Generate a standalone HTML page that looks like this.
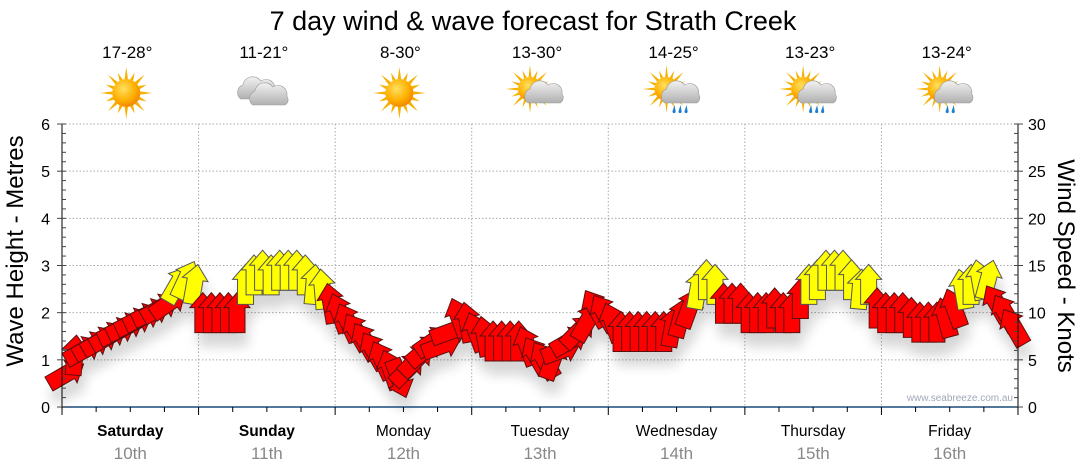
<!DOCTYPE html>
<html><head><meta charset="utf-8"><style>
html,body{margin:0;padding:0;background:#fff;}
svg{display:block;font-family:"Liberation Sans",sans-serif;}
</style></head><body>
<svg id="chart" width="1080" height="475" viewBox="0 0 1080 475" xmlns="http://www.w3.org/2000/svg">
<defs>
<radialGradient id="sunG" cx="0.4" cy="0.35" r="0.7"><stop offset="0" stop-color="#ffe060"/><stop offset="0.6" stop-color="#ffb000"/><stop offset="1" stop-color="#f08000"/></radialGradient>
<linearGradient id="cloudG" x1="0" y1="0" x2="0" y2="1"><stop offset="0" stop-color="#f2f2f2"/><stop offset="1" stop-color="#b0b0b0"/></linearGradient>
<filter id="shadow" x="-50%" y="-50%" width="200%" height="200%"><feGaussianBlur stdDeviation="6"/></filter>
</defs>
<text x="533" y="30" font-size="27" text-anchor="middle" fill="#000">7 day wind &amp; wave forecast for Strath Creek</text>
<g id="grid"></g>
<g id="icons"></g>
<g id="shadows" opacity="0.16" filter="url(#shadow)"></g>
<g id="arrows"></g>
<g id="axes"></g>
<text x="1013" y="401" font-size="10" text-anchor="end" fill="#a0a8b8">www.seabreeze.com.au</text>
<text transform="translate(23,251) rotate(-90)" font-size="24" text-anchor="middle">Wave Height - Metres</text>
<text transform="translate(1058,266) rotate(90)" font-size="24" text-anchor="middle">Wind Speed - Knots</text>
</svg>
<script>
const days = ["Saturday","Sunday","Monday","Tuesday","Wednesday","Thursday","Friday"];
const dates = ["10th","11th","12th","13th","14th","15th","16th"];
const temps = ["17-28°","11-21°","8-30°","13-30°","14-25°","13-23°","13-24°"];
const weather = ["sun","cloud","sun","suncloud","rain","rain","rainlight"];
const waveTicks = [0,1,2,3,4,5,6];
const windTicks = [0,5,10,15,20,25,30];
const windSpeed = [
 3.5,5.5,6,6.5,7,7.5,8,8.5,9,9.5,10,10.5,11,13,13.5,13,
 10,10,10,10,10,13,14,14.5,14,14.5,14.5,14.5,14,13,12.5,11,
 10,9,8,7,6,5,4,3,4,5,6,7,6.5,8,9.5,9,
 8,7.5,7,7,7,7,6.5,5.5,5,5,6,7,8,9,10.5,10,
 9,8,8,8,8,8,8,8.5,9.5,10.5,12.5,13.5,13,11,11,11,
 10,10,10,10.5,10,10,11.5,13,13.5,14.5,14.5,14.5,13.5,12.5,13,10.5,
 10,10,10,9.5,9,9,9,9.5,10.5,12.5,13,13.5,13.5,11,10,8.5
];
const windDir = [
 60,5,60,60,60,60,65,65,65,65,65,60,55,30,25,10,
 0,0,0,0,0,0,0,0,0,0,0,0,0,5,-5,-10,
 -20,-25,-30,-30,-30,-25,-20,160,45,45,50,55,70,70,-20,-10,
 -20,-10,0,0,0,0,-20,-30,-30,20,70,60,45,30,-30,-30,
 -20,0,0,0,0,0,0,10,15,20,10,0,0,0,0,0,
 0,0,0,0,0,0,0,0,0,0,0,0,0,5,0,0,
 0,0,0,0,0,0,0,-15,-20,-10,0,-10,15,-30,-30,-30
];
const X0=62,X1=1018,Y0=407,Y1=124;
const NS="http://www.w3.org/2000/svg";
function xScale(i,n){return X0+(i+0.5)*(X1-X0)/n;}
function dayX(d){return X0+d*(X1-X0)/7;}
function yWave(v){return Y0-(v/6)*(Y0-Y1);}
function yWind(v){return Y0-(v/30)*(Y0-Y1);}
function mk(tag,attrs,parent){const e=document.createElementNS(NS,tag);for(const k in attrs)e.setAttribute(k,attrs[k]);parent.appendChild(e);return e;}
const grid=document.getElementById('grid'),axes=document.getElementById('axes'),icons=document.getElementById('icons'),arrowsG=document.getElementById('arrows'),shadows=document.getElementById('shadows');
waveTicks.forEach(v=>{if(v===0)return;const l=mk('line',{x1:X0,x2:X1,y1:yWave(v),y2:yWave(v),stroke:'#aaa','stroke-dasharray':'1.5,2','stroke-width':1},grid);

});
for(let d=1;d<7;d++){const l=mk('line',{x1:dayX(d),x2:dayX(d),y1:Y1,y2:Y0,stroke:'#aaa','stroke-dasharray':'1.5,2'},grid);

}
mk('line',{x1:X0,x2:X0,y1:Y1,y2:Y0,stroke:'#000','stroke-width':1},axes);
mk('line',{x1:X1,x2:X1,y1:Y1,y2:Y0,stroke:'#000','stroke-width':1},axes);
mk('line',{x1:X0,x2:X1,y1:Y0,y2:Y0,stroke:'#1a4a7a','stroke-width':1.5},axes);
for(let k=0;k<=30;k++){const y=Y0-k*(Y0-Y1)/30;const major=k%5===0;
mk('line',{x1:X0-(major?5:0),x2:X0+4,y1:y,y2:y,stroke:'#444'},axes);
mk('line',{x1:X1-4,x2:X1+(major?5:0),y1:y,y2:y,stroke:'#444'},axes);}
waveTicks.forEach(v=>{const t=mk('text',{x:X0-12,y:yWave(v)+6,'font-size':16,'text-anchor':'end'},axes);t.textContent=v;

});
windTicks.forEach(v=>{const t=mk('text',{x:X1+10,y:yWind(v)+6,'font-size':16,'text-anchor':'start'},axes);t.textContent=v;

});
for(let k=0;k<=28;k++){const x=X0+k*(X1-X0)/28;mk('line',{x1:x,x2:x,y1:Y0,y2:Y0+(k%4===0?8:5),stroke:'#000'},axes);}
days.forEach((d,i)=>{const cx=(dayX(i)+dayX(i+1))/2;
const t=mk('text',{x:cx,y:436,'font-size':15.5,'text-anchor':'middle','font-weight':i<2?'bold':'normal'},axes);t.textContent=d;


const t2=mk('text',{x:cx,y:459,'font-size':17,'text-anchor':'middle',fill:'#888'},axes);t2.textContent=dates[i];


const t3=mk('text',{x:cx-3,y:58,'font-size':17,'text-anchor':'middle'},icons);t3.textContent=temps[i];


drawIcon(weather[i],cx-4,93);});
function sun(cx,cy,r,g){let rays='';for(let a=0;a<16;a++){const an=a*Math.PI/8;const r2=a%2?r+8:r+12;const w=0.12;
rays+=`M${cx+r*Math.cos(an-w)},${cy+r*Math.sin(an-w)}L${cx+r2*Math.cos(an)},${cy+r2*Math.sin(an)}L${cx+r*Math.cos(an+w)},${cy+r*Math.sin(an+w)}Z`;}
mk('path',{d:rays,fill:'#f5b000'},g);mk('circle',{cx,cy,r,fill:'url(#sunG)'},g);}
function cloud(cx,cy,s,g){mk('path',{d:`M${cx-16*s},${cy+8*s} a8 8 0 0 1 2,-14 a10 10 0 0 1 18,-4 a9 9 0 0 1 14,9 a6 6 0 0 1 -2,9 z`,fill:'url(#cloudG)',stroke:'#999','stroke-width':0.6},g);}
function drawIcon(type,cx,cy){const g=mk('g',{},icons);


if(type==='sun'){sun(cx,cy,14,g);}
else if(type==='cloud'){cloud(cx-6,cy-2,1,g);cloud(cx+6,cy+4,1,g);}
else{sun(cx-6,cy-4,12,g);cloud(cx+8,cy+2,1,g);
if(type!=='suncloud'){const n=type==='rainlight'?2:3;for(let k=0;k<n;k++)mk('path',{d:`M${cx+2+k*6},${cy+12} l-2,6 a1.6 1.6 0 1 0 3,0 z`,fill:'#1e7fd0'},g);}}}
const N=windSpeed.length;
function arrowPath(){return 'M0,-20 L13,-5 L8,-5 L8,20 L-8,20 L-8,-5 L-13,-5 Z';}
for(let i=0;i<N;i++){const x=xScale(i,N),y=yWind(windSpeed[i]);
const s=mk('path',{d:arrowPath(),transform:`translate(${x+3},${y+14}) rotate(${windDir[i]})`,fill:'#000'},shadows);


const yellow=windSpeed[i]>=12.5;
const a=mk('path',{d:arrowPath(),transform:`translate(${x},${y}) rotate(${windDir[i]})`,fill:yellow?'#ffff00':'#ff0000',stroke:yellow?'#555':'#5a1010','stroke-width':1,'stroke-linejoin':'miter'},arrowsG);

}
</script>
</body></html>
